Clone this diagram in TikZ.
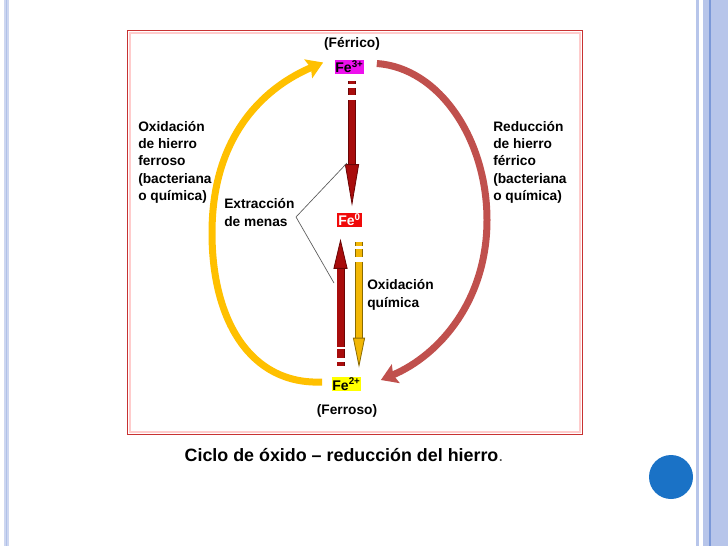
\documentclass[tikz,border=0pt]{standalone}
\usepackage{fontspec}
\setmainfont{Liberation Sans}
\usetikzlibrary{calc,arrows.meta,positioning}
\definecolor{framered}{HTML}{C83232}
\definecolor{oxgold}{HTML}{FFC000}
\definecolor{redarc}{HTML}{C0504D}
\definecolor{darkred}{HTML}{A80C0C}
\definecolor{darkline}{HTML}{6A0505}
\definecolor{amber}{HTML}{F2B705}
\definecolor{amberline}{HTML}{8A6A00}
\definecolor{ferric}{HTML}{EE10EE}
\definecolor{metal}{HTML}{F00A0A}
\definecolor{ferrous}{HTML}{FFFF00}
\definecolor{bandblue}{HTML}{B7C5EA}
\definecolor{linkblue}{HTML}{7B98D8}
\definecolor{dotblue}{HTML}{1A72C6}

\tikzset{
  ionbox/.style={inner sep=0pt, minimum width=18.75pt, minimum height=10.5pt, font=\bfseries\fontsize{10.5}{12}\selectfont},
  lbl/.style={align=left, anchor=base west, inner sep=0pt, font=\bfseries\fontsize{10.3}{13}\selectfont},
  cyclearc/.style={line width=5.25pt, -{Stealth[length=12pt, width=15pt, inset=2pt]}},
}

\begin{document}
\begin{tikzpicture}[x=0.75pt, y=-0.75pt]
\useasboundingbox (0,0) rectangle (728,546);
% page edges
\fill[bandblue!70] (4,0) rectangle (9,546);
\draw[linkblue!60, line width=0.6pt] (6.5,0) -- (6.5,546);
\fill[bandblue] (695.5,0) rectangle (698.5,546);
\fill[bandblue] (703,0) rectangle (728,546);
\fill[linkblue] (709,0) rectangle (711,546);
% frame
\draw[red!20, line width=1.5pt] (130,33) rectangle (580,432);
\draw[framered, line width=1.2pt] (127.5,30.5) rectangle (582.5,434.5);

% iron states
\node[ionbox, fill=ferric] (fe3) at (349.5,66.5) {Fe\textsuperscript{3+}};
\node[ionbox, fill=metal, text=white] (fe0) at (349.5,219.5) {Fe\textsuperscript{0}};
\node[ionbox, fill=ferrous] (fe2) at (346.5,384) {Fe\textsuperscript{2+}};
\node[lbl, anchor=center] (ferric) at (352,44) {(Férrico)};
\node[lbl, anchor=center] (ferrous) at (347,411) {(Ferroso)};

% labels (base = last line)
\node[lbl] (oxlabel) at (138,200.5) {Oxidación\\de hierro\\ferroso\\(bacteriana\\o química)};
\node[lbl] (redlabel) at (493,200.5) {Reducción\\de hierro\\férrico\\(bacteriana\\o química)};
\node[lbl, font=\bfseries\fontsize{10.3}{13.5}\selectfont] (extr) at (224,226.5) {Extracción\\de menas};
\node[lbl, font=\bfseries\fontsize{10.3}{13.5}\selectfont] (oxquim) at (367,307.5) {Oxidación\\química};

% cycle arcs
\draw[cyclearc, oxgold] ($(fe2.west)+(-10,-2)$) .. controls (250,385) and (212,320) .. (212,233)
  .. controls (212,130) and (270,85) .. ($(fe3.west)+(-12,-4)$);
\draw[cyclearc, redarc] ($(fe3.east)+(13,-3)$) .. controls (440,68) and (487,140) .. (487,220)
  .. controls (487,300) and (440,355) .. ($(fe2.east)+(20,-4)$);

% straight flows
\draw[darkred, line width=4.5pt, dash pattern=on 2.25pt off 3pt on 5.25pt off 3.75pt on 400pt,
  preaction={draw=darkline, line width=5.3pt, arrows=-, shorten >=28pt,
    dash pattern=on 2.25pt off 3pt on 5.25pt off 3.75pt on 400pt},
  -{Triangle[length=31.5pt, width=10.5pt, fill=darkred, color=darkline, line width=0.6pt]}]
  ($(fe3.south)+(2.5,7)$) -- ($(fe0.north)+(2.5,-6)$);
\draw[darkred, line width=5.25pt, dash pattern=on 3pt off 3pt on 6.75pt off 1.5pt on 400pt,
  preaction={draw=darkline, line width=6pt, arrows=-, shorten >=20pt,
    dash pattern=on 3pt off 3pt on 6.75pt off 1.5pt on 400pt},
  -{Triangle[length=22.5pt, width=10.5pt, fill=darkred, color=darkline, line width=0.6pt]}]
  ($(fe2.north)+(-6,-11)$) -- ($(fe0.south)+(-9,12)$);
\draw[amber, line width=4.5pt, dash pattern=on 3pt off 2.25pt on 6pt off 3.75pt on 400pt,
  preaction={draw=amberline, line width=5.3pt, arrows=-, shorten >=20pt,
    dash pattern=on 3pt off 2.25pt on 6pt off 3.75pt on 400pt},
  -{Triangle[length=22.5pt, width=9pt, fill=amber, color=amberline, line width=0.6pt]}]
  ($(fe0.south)+(9.5,15)$) -- ($(fe2.north)+(12.5,-9)$);

% extraction pointer
\coordinate (vtx) at (296,217);
\coordinate (exttop) at (347,163);
\coordinate (extbot) at (334,283);
\draw[black!65, line width=0.5pt] (exttop) -- (vtx) -- (extbot);

% caption and dot
\node[font=\bfseries\fontsize{13.4}{16}\selectfont] (caption) at (344,455) {Ciclo de óxido – reducción del hierro{\mdseries\color{black!70}.}};
\fill[dotblue] (671,477) circle (16.5pt);
\end{tikzpicture}
\end{document}
